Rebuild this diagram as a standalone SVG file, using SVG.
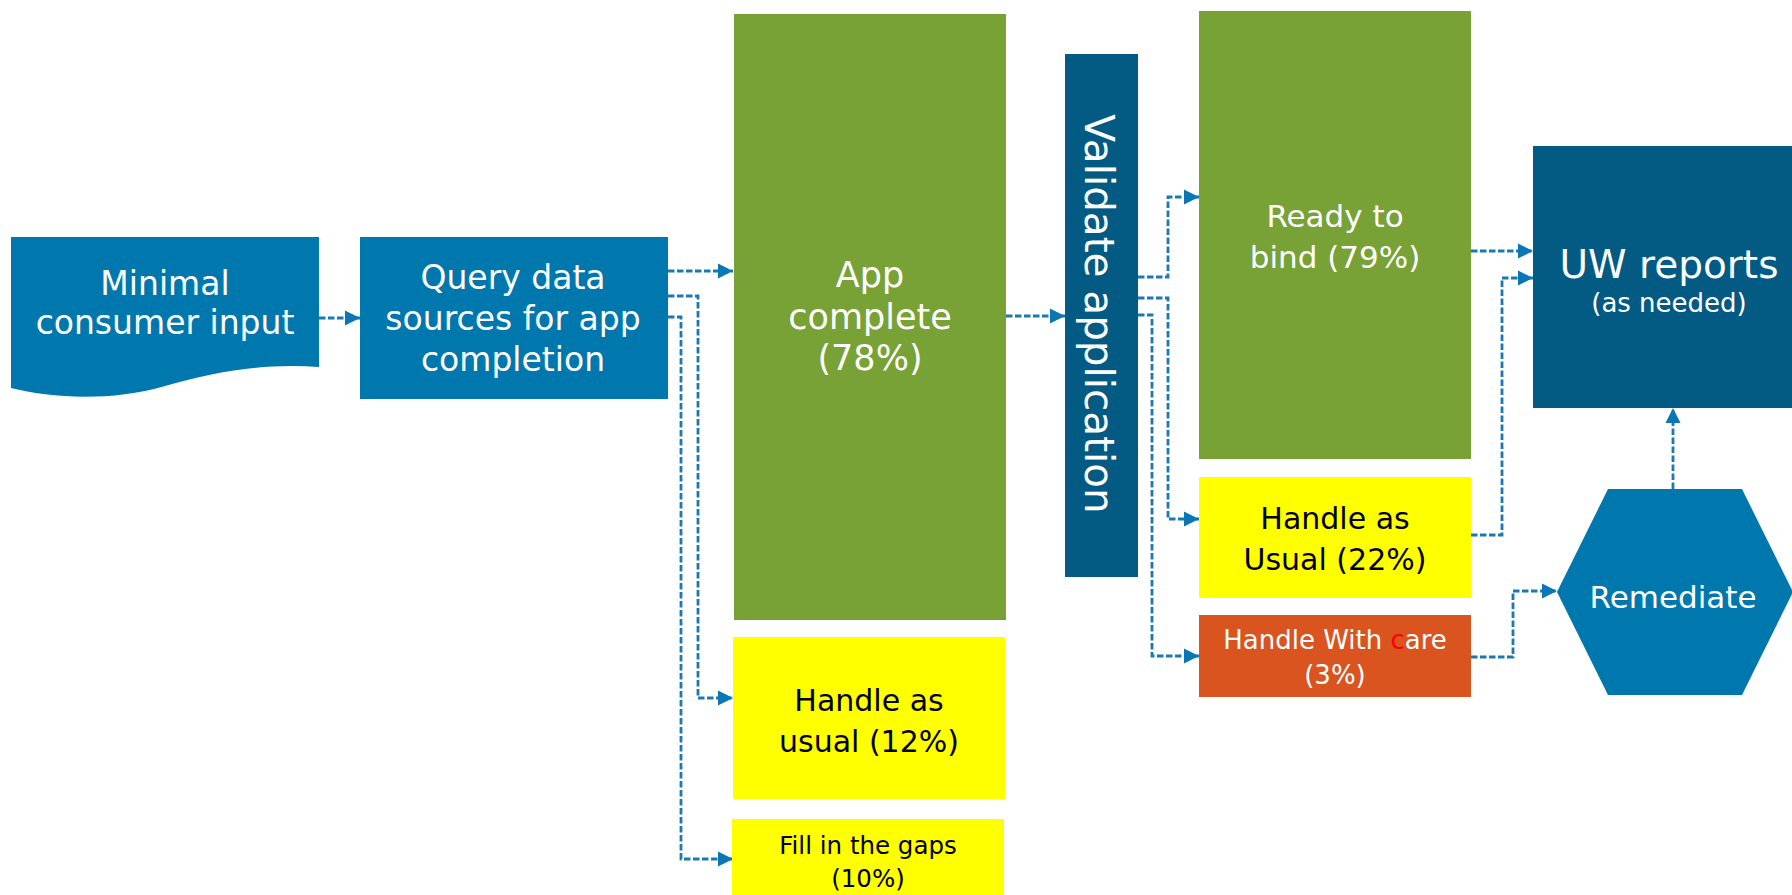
<svg xmlns="http://www.w3.org/2000/svg" width="1792" height="895" viewBox="0 0 1792 895">
<defs>
<style>
.blue{fill:#0078AE}
.dark{fill:#035A82}
.green{fill:#78A136}
.yellow{fill:#FFFF00}
.orange{fill:#D9541F}
text{font-family:"DejaVu Sans","Liberation Sans",sans-serif;text-anchor:middle}
.w{fill:#FFFFFF}
.k{fill:#000000}
.conn{fill:none;stroke:#1A78B4;stroke-width:2.8;stroke-dasharray:6.5 2.5;marker-end:url(#arr)}
</style>
<marker id="arr" markerUnits="userSpaceOnUse" markerWidth="16" markerHeight="16" refX="15" refY="8" orient="auto">
<path d="M0,0.5 L15,8 L0,15.5 Z" fill="#0A76B4"/>
</marker>
</defs>
<rect width="1792" height="895" fill="#FFFFFF"/>

<g id="connectors">
<path class="conn" d="M319,318 H360"/>
<path class="conn" d="M668,271 H733"/>
<path class="conn" d="M668,296 H698 V698 H733"/>
<path class="conn" d="M668,317 H681 V859 H733"/>
<path class="conn" d="M1006,316 H1065"/>
<path class="conn" d="M1138,277 H1168 V197 H1199"/>
<path class="conn" d="M1138,298 H1168 V519 H1199"/>
<path class="conn" d="M1138,315 H1152 V656 H1199"/>
<path class="conn" d="M1471,251 H1533"/>
<path class="conn" d="M1471,535 H1502 V278 H1533"/>
<path class="conn" d="M1471,657 H1513 V591 H1557"/>
<path class="conn" d="M1673,489 V408"/>
</g>

<g id="minimal">
<path class="blue" d="M11,237 H319 V367 C270,363 220,370 165,386 C110,402 50,398 11,388 Z"/>
<text class="w" x="165" y="295" font-size="33">Minimal</text>
<text class="w" x="165" y="334" font-size="33">consumer input</text>
</g>

<g id="query">
<rect class="blue" x="360" y="237" width="308" height="162"/>
<text class="w" x="513" y="289" font-size="33">Query data</text>
<text class="w" x="513" y="330" font-size="33">sources for app</text>
<text class="w" x="513" y="371" font-size="33">completion</text>
</g>

<g id="appcomplete">
<rect class="green" x="734" y="14" width="272" height="606"/>
<text class="w" x="870" y="287" font-size="35">App</text>
<text class="w" x="870" y="329" font-size="35">complete</text>
<text class="w" x="870" y="370" font-size="35">(78%)</text>
</g>

<g id="usual12">
<rect class="yellow" x="733" y="637" width="272" height="162"/>
<text class="k" x="869" y="711" font-size="30">Handle as</text>
<text class="k" x="869" y="752" font-size="30">usual (12%)</text>
</g>

<g id="gaps">
<rect class="yellow" x="732" y="819" width="272" height="76"/>
<text class="k" x="868" y="854" font-size="24.5">Fill in the gaps</text>
<text class="k" x="868" y="887" font-size="24.5">(10%)</text>
</g>

<g id="validate">
<rect class="dark" x="1065" y="54" width="73" height="523"/>
<text class="w" font-size="40.5" transform="translate(1085,314) rotate(90)">Validate application</text>
</g>

<g id="ready">
<rect class="green" x="1199" y="11" width="272" height="448"/>
<text class="w" x="1335" y="227" font-size="31">Ready to</text>
<text class="w" x="1335" y="268" font-size="31">bind (79%)</text>
</g>

<g id="usual22">
<rect class="yellow" x="1199" y="477" width="272" height="121"/>
<text class="k" x="1335" y="529" font-size="30">Handle as</text>
<text class="k" x="1335" y="570" font-size="30">Usual (22%)</text>
</g>

<g id="care">
<rect class="orange" x="1199" y="615" width="272" height="82"/>
<text class="w" x="1335" y="649" font-size="26">Handle With <tspan fill="#FF0000">c</tspan>are</text>
<text class="w" x="1335" y="684" font-size="26">(3%)</text>
</g>

<g id="uw">
<rect class="dark" x="1533" y="146" width="270" height="262"/>
<text class="w" x="1669" y="278" font-size="39">UW reports</text>
<text class="w" x="1669" y="312" font-size="26">(as needed)</text>
</g>

<g id="remediate">
<polygon class="blue" points="1557,592 1608,489 1742,489 1793,592 1742,695 1608,695"/>
<text class="w" x="1673" y="608" font-size="31">Remediate</text>
</g>
</svg>
